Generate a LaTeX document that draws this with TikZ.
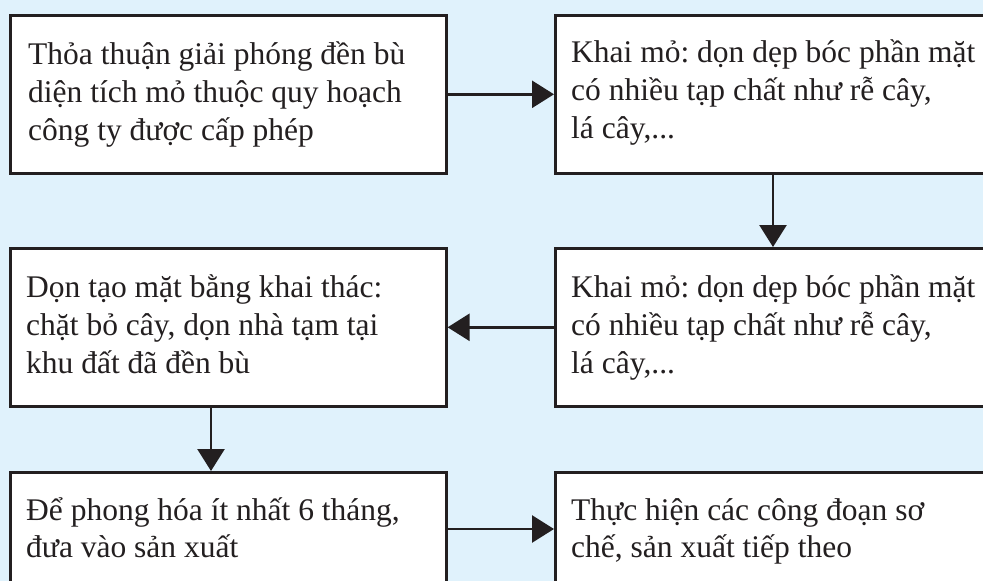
\documentclass[tikz,border=0pt]{standalone}
\usepackage{fontspec}
\setmainfont{Liberation Serif}
\usetikzlibrary{arrows.meta}
\definecolor{bgblue}{RGB}{224,242,252}
\definecolor{ink}{RGB}{35,31,32}
\begin{document}
\frenchspacing
\begin{tikzpicture}[x=1pt,y=1pt,
  box/.style={draw=ink, line width=2.6pt, fill=white, anchor=north west,
    rectangle, minimum width=436pt, inner sep=0pt},
  tall/.style={minimum height=158pt},
  low/.style={minimum height=128pt},
  txt/.style={anchor=base west, inner sep=0pt, align=left,
    font=\fontsize{31.5}{38}\selectfont, text=ink},
  arr/.style={draw=ink, line width=2.6pt, -{Triangle[length=22pt,width=27pt]}}]
\useasboundingbox (0,0) rectangle (983,-581);
\clip (0,0) rectangle (983,-581);
\fill[bgblue] (0,0) rectangle (983,-581);
\node[box,tall] (b1) at (9,-14) {};
\node[box,tall] (b2) at (554,-14) {};
\node[box,tall] (b3) at (9,-247) {};
\node[box,tall] (b4) at (554,-247) {};
\node[box,low] (b5) at (9,-471) {};
\node[box,low] (b6) at (554,-471) {};
\node[txt] (t1) at (28,-140) {Thỏa thuận giải phóng đền bù\\diện tích mỏ thuộc quy hoạch\\công ty được cấp phép};
\node[txt] (t2) at (571,-138) {Khai mỏ: dọn dẹp bóc phần mặt\\có nhiều tạp chất như rễ cây,\\lá cây,...};
\node[txt] (t3) at (26,-373) {Dọn tạo mặt bằng khai thác:\\chặt bỏ cây, dọn nhà tạm tại\\khu đất đã đền bù};
\node[txt] (t4) at (571,-373) {Khai mỏ: dọn dẹp bóc phần mặt\\có nhiều tạp chất như rễ cây,\\lá cây,...};
\node[txt,font=\fontsize{31.5}{37}\selectfont] (t5) at (26,-557) {Để phong hóa ít nhất 6 tháng,\\đưa vào sản xuất};
\node[txt,font=\fontsize{31.5}{37}\selectfont] (t6) at (571,-557) {Thực hiện các công đoạn sơ\\chế, sản xuất tiếp theo};
\draw[arr] (b1.east) -- (b2.west);
\draw[arr] ([xshift=219pt]b2.south west) -- ([xshift=219pt]b4.north west);
\draw[arr] (b4.west) -- (b3.east);
\draw[arr] ([xshift=202pt]b3.south west) -- ([xshift=202pt]b5.north west);
\draw[arr] ([yshift=-58pt]b5.north east) -- ([yshift=-58pt]b6.north west);
\end{tikzpicture}
\end{document}
